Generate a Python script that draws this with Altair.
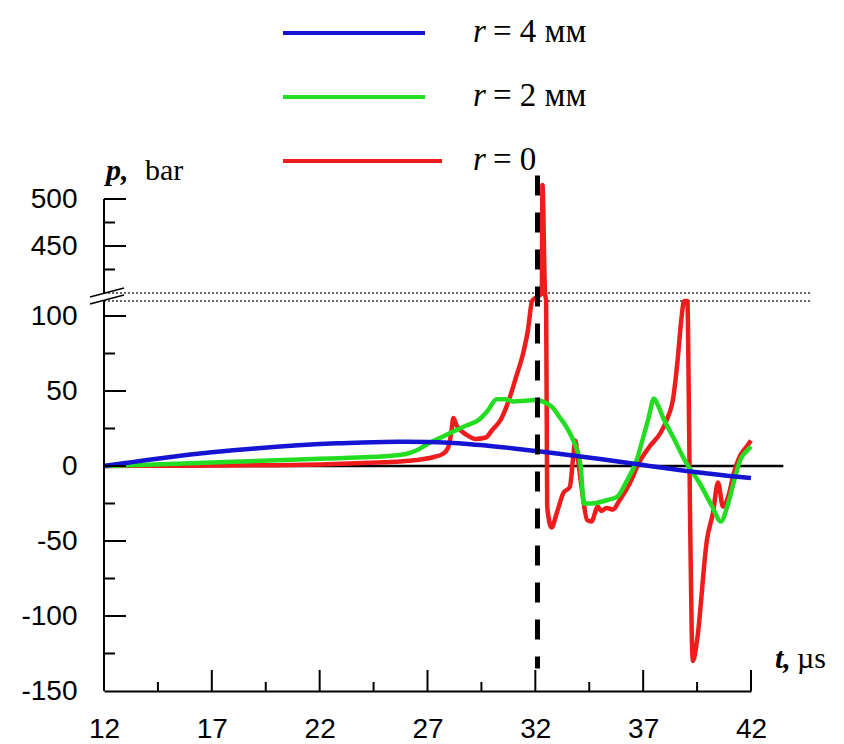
import altair as alt
import pandas as pd

# ---------------- data ----------------
BLUE_T = [12, 13, 14, 15, 16, 17, 18, 19, 20, 21, 22, 23, 24, 25, 26, 27,
          28, 29, 30, 31, 32, 33, 34, 35, 36, 37, 38, 39, 40, 41, 42]
BLUE_P = [0, 2.0, 4.0, 5.9, 7.6, 9.1, 10.5, 11.7, 12.8, 13.8, 14.6, 15.2, 15.7, 16.0, 16.1, 16.0,
          15.5, 14.5, 13.2, 11.7, 10.0, 8.3, 6.5, 4.6, 2.6, 0.6, -1.4, -3.3, -5.0, -6.6, -8.0]

GREEN_T = [12, 14, 16, 18, 20, 22, 24, 25, 26, 26.5, 27.1, 27.7, 28.2, 28.8, 29.4, 29.8,
           30.2, 30.6, 31.0, 31.5, 32.0, 32.5, 32.8, 33.1, 33.4, 33.7, 33.95, 34.1, 34.25,
           34.6, 35.0, 35.4, 35.8, 36.2, 36.7, 37.0, 37.25, 37.5, 37.7, 37.9, 38.4, 39.0,
           39.6, 40.2, 40.6, 40.9, 41.2, 41.5, 41.8, 42.0]
GREEN_P = [0, 0.8, 1.8, 2.8, 3.8, 4.8, 5.8, 6.5, 8.0, 10.5, 15.5, 19.5, 23, 27, 31, 37,
           44.5, 44.5, 43, 43.5, 44, 42, 39, 33, 27, 19, 10, 0, -25,
           -25, -24, -22.5, -20.5, -11, 4, 19, 32, 45, 40, 33, 19, 2,
           -11, -27, -37, -27, -11, 4, 10, 13]

RED_T = [12, 16, 20, 22, 24, 25, 25.7, 26.5, 27.3, 27.7, 27.95, 28.1, 28.2, 28.35, 28.6,
         28.9, 29.2, 29.7, 30.0, 30.4, 30.8, 31.1, 31.45, 31.65, 31.85, 32.3, 32.33, 32.45,
         32.5, 32.55, 32.75, 33.0, 33.3, 33.6, 33.75, 33.85, 34.0, 34.2, 34.4, 34.6, 34.9,
         35.05, 35.3, 35.6, 35.9, 36.4, 36.8, 37.3, 37.8, 38.1, 38.4, 38.6, 38.75, 38.9,
         39.05, 39.12, 39.18, 39.25, 39.31, 39.5, 39.96, 40.24, 40.47, 40.7, 40.95, 41.2,
         41.5, 41.8, 42.0]
RED_P = [0, 0.2, 0.5, 1, 2, 2.5, 3, 4, 6, 8, 12, 22, 32, 27, 23,
         20, 18, 19, 24, 31, 45, 59, 76, 90, 110, 400, 515, 400,
         110, -27, -41, -31, -18, -14, 5, 17, 2, -20, -36, -37, -27,
         -30, -28, -29, -23, -11, 2, 13, 22, 31, 46, 71, 95, 110,
         110, 40, -40, -110, -130, -116, -49, -31, -11, -27, -20, -5,
         7, 13, 17]

SERIES = ["r = 0", "r = 2 мм", "r = 4 мм"]
LEGEND_TEXT = ["= 0", "= 2 мм", "= 4 мм"]
COLORS = ["#ee1c1c", "#22dd22", "#1414d2"]

T_TICKS = [12, 17, 22, 27, 32, 37, 42]
T_MINOR = [14.5, 19.5, 24.5, 29.5, 34.5, 39.5]
P_TICKS = [-150, -100, -50, 0, 50, 100, 450, 500]
P_MINOR = [-125, -75, -25, 25, 75, 425, 475]
P_DOMAIN = [-150, 110, 400, 500]   # broken axis: lower part -150..110, upper part 400..500
T_DOMAIN = [12, 42]
T_MARK = 32.1                      # dashed marker
T_ZERO_END = 43.5
T_DOT_END = 44.8

# ---------------- chart ----------------
W, H = 647, 492
x_scale = alt.Scale(domain=T_DOMAIN, nice=False, zero=False)
y_scale = alt.Scale(domain=P_DOMAIN, range=[H, 102, 94, 0], nice=False, zero=False)

frames = []
for name, t, p in [("r = 0", RED_T, RED_P), ("r = 2 мм", GREEN_T, GREEN_P), ("r = 4 мм", BLUE_T, BLUE_P)]:
    frames.append(pd.DataFrame({"t": t, "p": p, "series": name}))
curves_df = pd.concat(frames, ignore_index=True)

color = alt.Color("series:N", scale=alt.Scale(domain=SERIES, range=COLORS), legend=None)

x_axis = alt.Axis(values=T_TICKS, title=None, ticks=False, grid=False, domainColor="black",
                  domainWidth=2, labelFont="Liberation Sans", labelFontSize=28, labelColor="black",
                  labelPadding=24, labelFlush=False)
y_axis = alt.Axis(values=P_TICKS, title=None, ticks=False, grid=False, domain=False,
                  labelFont="Liberation Sans", labelFontSize=28, labelColor="black",
                  labelPadding=27, labelFlush=False, labelOverlap=False,
                  labelExpr="datum.value + ''")

def X(field="t"):
    return alt.X(f"{field}:Q", scale=x_scale, axis=x_axis)

def Y(field="p"):
    return alt.Y(f"{field}:Q", scale=y_scale, axis=y_axis)

layers = []

# zero line
zero_df = pd.DataFrame({"t": [T_DOMAIN[0]], "t2": [T_ZERO_END], "p": [0]})
layers.append(alt.Chart(zero_df).mark_rule(color="black", strokeWidth=2.5).encode(
    x=X("t"), x2="t2", y=Y("p")))

# dotted break lines
dot_df = pd.DataFrame({"t": [T_DOMAIN[0]] * 2, "t2": [T_DOT_END] * 2, "p": [P_DOMAIN[1], P_DOMAIN[2]]})
layers.append(alt.Chart(dot_df).mark_rule(color="#333333", strokeWidth=1.3, strokeDash=[2, 2]).encode(
    x=X("t"), x2="t2", y=Y("p")))

# curves (red, green, blue order so blue is on top)
for name in SERIES:
    layers.append(alt.Chart(curves_df).transform_filter(alt.datum.series == name)
                  .mark_line(strokeWidth=4.5, interpolate="monotone", clip=False)
                  .encode(x=X("t"), y=Y("p"), color=color))

# dashed vertical marker
dash_df = pd.DataFrame({"t": [T_MARK], "p": [525], "p2": [-135]})
layers.append(alt.Chart(dash_df).mark_rule(color="black", strokeWidth=5, strokeDash=[20, 17]).encode(
    x=X("t"), y=Y("p"), y2="p2"))

# y axis line in two pieces
yax_df = pd.DataFrame({"p": [P_DOMAIN[0], P_DOMAIN[2]], "p2": [P_DOMAIN[1], P_DOMAIN[3]]})
layers.append(alt.Chart(yax_df).mark_rule(color="black", strokeWidth=2).encode(
    x=alt.value(0), y=Y("p"), y2="p2"))

# inward ticks
ymaj = pd.DataFrame({"p": [v for v in P_TICKS if v != P_DOMAIN[0]]})
ymin = pd.DataFrame({"p": P_MINOR})
xmaj = pd.DataFrame({"t": [v for v in T_TICKS if v != T_DOMAIN[0]]})
xmin = pd.DataFrame({"t": T_MINOR})
layers.append(alt.Chart(ymaj).mark_rule(color="black", strokeWidth=2).encode(
    y=Y("p"), x=alt.value(0), x2=alt.value(22)))
layers.append(alt.Chart(ymin).mark_rule(color="black", strokeWidth=2).encode(
    y=Y("p"), x=alt.value(0), x2=alt.value(11)))
layers.append(alt.Chart(xmaj).mark_rule(color="black", strokeWidth=2).encode(
    x=X("t"), y=alt.value(H), y2=alt.value(H - 21)))
layers.append(alt.Chart(xmin).mark_rule(color="black", strokeWidth=2).encode(
    x=X("t"), y=alt.value(H), y2=alt.value(H - 9)))

# axis-break slashes
one = pd.DataFrame({"a": [0]})
for y1, y2 in [(98, 89), (105, 96)]:
    layers.append(alt.Chart(one).mark_rule(color="black", strokeWidth=1.5).encode(
        x=alt.value(-14), x2=alt.value(20), y=alt.value(y1), y2=alt.value(y2)))

def text(s, x, y, size=30, style="normal", weight="normal", font="Liberation Serif"):
    return alt.Chart(one).mark_text(align="left", baseline="alphabetic", font=font, fontSize=size,
                                    fontStyle=style, fontWeight=weight, color="black").encode(
        x=alt.value(x), y=alt.value(y), text=alt.value(s))

# axis titles
layers.append(text("p,", 2, -19, 30, "italic", "bold"))
layers.append(text("bar", 41, -19, 30))
layers.append(text("t,", 671, 469, 30, "italic", "bold"))
layers.append(text("µs", 693, 469, 30))

# legend (top, manual)
LEG_Y = [-38, -102, -166]
LEG_X2 = [338, 321, 321]
for i, name in enumerate(SERIES):
    layers.append(alt.Chart(one).mark_rule(color=COLORS[i], strokeWidth=4).encode(
        x=alt.value(179), x2=alt.value(LEG_X2[i]), y=alt.value(LEG_Y[i])))
    layers.append(text("r", 369, LEG_Y[i] + 9, 33, "italic"))
    layers.append(text(LEGEND_TEXT[i], 389, LEG_Y[i] + 9, 33))

chart = alt.layer(*layers).properties(
    width=W, height=H,
    autosize=alt.AutoSizeParams(type="none"),
    padding={"left": 104, "top": 199, "right": 93, "bottom": 53},
    background="white",
).configure_view(stroke=None)

chart.save("out.html", embed_options={"renderer": "svg", "actions": False})
